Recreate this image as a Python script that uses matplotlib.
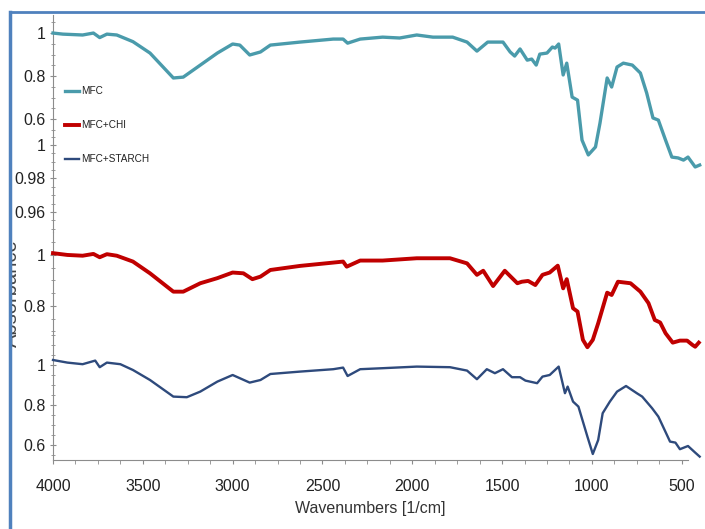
import matplotlib
matplotlib.use("Agg")
import matplotlib.pyplot as plt
from matplotlib.patches import Rectangle
from matplotlib.lines import Line2D
from matplotlib.ticker import MultipleLocator, FormatStrFormatter, FixedLocator

plt.rcParams['font.family'] = ['Liberation Sans', 'DejaVu Sans']

# --- data ---
wn_mfc = [4000, 3945, 3835, 3775, 3740, 3700, 3645, 3555, 3460, 3330, 3275, 3180,
          3085, 3000, 2960, 2905, 2845, 2790, 2625, 2440, 2385, 2360, 2290, 2165,
          2070, 1975, 1885, 1775, 1695, 1640, 1580, 1495, 1455, 1430, 1400, 1360,
          1335, 1310, 1290, 1250, 1220, 1205, 1185, 1160, 1140, 1110, 1080, 1055,
          1020, 980, 955, 915, 890, 860, 825, 775, 730, 695, 660, 630, 590, 555,
          520, 490, 465, 425, 400]
abs_mfc = [1.0, 0.995, 0.991, 1.0, 0.979, 0.995, 0.991, 0.960, 0.907, 0.791, 0.795, 0.851,
           0.907, 0.949, 0.944, 0.898, 0.912, 0.944, 0.958, 0.972, 0.972, 0.953, 0.972, 0.981,
           0.977, 0.991, 0.981, 0.981, 0.958, 0.916, 0.958, 0.958, 0.912, 0.893, 0.926, 0.874,
           0.879, 0.851, 0.902, 0.907, 0.935, 0.930, 0.949, 0.805, 0.860, 0.702, 0.688, 0.502,
           0.433, 0.470, 0.581, 0.791, 0.749, 0.842, 0.860, 0.851, 0.814, 0.721, 0.605, 0.595,
           0.502, 0.423, 0.419, 0.409, 0.423, 0.377, 0.386]

wn_chi = [4000, 3920, 3835, 3775, 3740, 3700, 3645, 3555, 3460, 3330, 3275, 3180,
          3085, 3000, 2940, 2890, 2845, 2790, 2625, 2440, 2385, 2365, 2290, 2165,
          1975, 1790, 1695, 1640, 1605, 1550, 1485, 1415, 1390, 1355, 1315, 1275,
          1235, 1190, 1160, 1140, 1105, 1080, 1050, 1025, 995, 965, 915, 890, 855,
          785, 730, 685, 650, 620, 590, 550, 510, 470, 440, 425, 405]
abs_chi = [1.007, 1.0, 0.997, 1.004, 0.991, 1.003, 0.997, 0.974, 0.928, 0.856, 0.856, 0.889,
           0.909, 0.931, 0.928, 0.905, 0.915, 0.941, 0.957, 0.970, 0.974, 0.954, 0.978, 0.978,
           0.987, 0.987, 0.967, 0.922, 0.938, 0.878, 0.938, 0.889, 0.895, 0.898, 0.882, 0.922,
           0.931, 0.958, 0.869, 0.905, 0.791, 0.778, 0.667, 0.638, 0.667, 0.732, 0.852, 0.843,
           0.895, 0.889, 0.856, 0.811, 0.745, 0.735, 0.693, 0.656, 0.664, 0.664, 0.647, 0.640,
           0.656]

wn_starch = [4000, 3920, 3835, 3765, 3740, 3700, 3625, 3555, 3460, 3330, 3255, 3180,
             3085, 3000, 2905, 2845, 2790, 2625, 2440, 2385, 2360, 2290, 2165, 1975,
             1790, 1695, 1640, 1585, 1540, 1495, 1445, 1400, 1370, 1305, 1275, 1235,
             1185, 1150, 1135, 1105, 1075, 1025, 995, 965, 940, 900, 860, 810, 750,
             720, 665, 630, 565, 535, 510, 465, 425, 400]
abs_starch = [1.025, 1.012, 1.004, 1.022, 0.989, 1.012, 1.004, 0.975, 0.925, 0.842, 0.839, 0.867,
              0.917, 0.950, 0.912, 0.925, 0.955, 0.967, 0.979, 0.987, 0.945, 0.979, 0.984, 0.992,
              0.989, 0.972, 0.929, 0.979, 0.959, 0.979, 0.939, 0.939, 0.922, 0.909, 0.942, 0.950,
              0.992, 0.859, 0.892, 0.817, 0.792, 0.642, 0.555, 0.625, 0.759, 0.817, 0.867, 0.895,
              0.859, 0.842, 0.784, 0.742, 0.617, 0.612, 0.579, 0.595, 0.562, 0.542]

W, H = 705, 529
fig = plt.figure(figsize=(W / 100, H / 100), dpi=100)
fig.patch.set_facecolor("white")


def panel(top, bottom):
    return fig.add_axes([53 / W, 1 - bottom / H, 635 / W, (bottom - top) / H])


grey = "#8c8c8c"
# (top px, bottom px, ylim, major ticks, minor step)
specs = [
    (15, 130, (0.549, 1.084), [0.6, 0.8, 1.0], 0.05),
    (130, 232, (0.948, 1.009), [0.96, 0.98, 1.0], 0.005),
    (232, 335, (0.686, 1.090), [0.8, 1.0], 0.05),
    (335, 460, (0.525, 1.150), [0.6, 0.8, 1.0], 0.05),
]
axes = []
for top, bottom, ylim, major, minor in specs:
    ax = panel(top, bottom)
    ax.set_xlim(4000, 465)
    ax.set_ylim(*ylim)
    ax.patch.set_alpha(0)
    for s in ("top", "right", "bottom"):
        ax.spines[s].set_visible(False)
    ax.spines["left"].set_color(grey)
    ax.yaxis.set_major_locator(FixedLocator(major))
    ax.yaxis.set_minor_locator(MultipleLocator(minor))
    ax.yaxis.set_major_formatter(FormatStrFormatter("%g"))
    ax.tick_params(axis="y", which="both", direction="inout", color=grey,
                   labelsize=11.5, labelcolor="#222222", pad=3)
    ax.tick_params(axis="y", which="major", length=5)
    ax.tick_params(axis="y", which="minor", length=3)
    ax.set_xticks([])
    axes.append(ax)

bot = axes[-1]
bot.spines["bottom"].set_visible(True)
bot.spines["bottom"].set_color(grey)
bot.set_xticks([4000, 3500, 3000, 2500, 2000, 1500, 1000, 500])
bot.xaxis.set_minor_locator(MultipleLocator(125))
bot.tick_params(axis="x", which="both", direction="out", color=grey, length=3,
                labelsize=11.5, labelcolor="#222222", pad=11)
bot.set_xlabel("Wavenumbers [1/cm]", fontsize=11.5, color="#333333", labelpad=5)

c_mfc, c_chi, c_starch = "#4a9bab", "#c00000", "#2e4a7c"
style = dict(clip_on=False, zorder=5, solid_joinstyle="round")
axes[0].plot(wn_mfc, abs_mfc, color=c_mfc, lw=2.4, **style)
axes[2].plot(wn_chi, abs_chi, color=c_chi, lw=2.8, **style)
axes[3].plot(wn_starch, abs_starch, color=c_starch, lw=1.7, **style)

handles = [Line2D([], [], color=c_mfc, lw=2.4),
           Line2D([], [], color=c_chi, lw=2.8),
           Line2D([], [], color=c_starch, lw=1.7)]
fig.legend(handles, ["MFC", "MFC+CHI", "MFC+STARCH"], loc="upper left",
           bbox_to_anchor=(60 / W, 1 - 81 / H), frameon=False, fontsize=7.2,
           labelspacing=2.4, handlelength=1.4, handletextpad=0.2, borderpad=0,
           labelcolor="#222222")

fig.text(21 / W, 1 - 293 / H, "Absorbance", rotation=90, fontsize=14.5,
         color="#444444", ha="right", va="center", zorder=1)

# outer frame, hides the left part of the y label
fig.patches.append(Rectangle((0, 0), 10 / W, 1 - 12 / H, transform=fig.transFigure,
                             facecolor="white", edgecolor="none", zorder=3))
fig.add_artist(Line2D([10 / W, 10 / W], [0, 1 - 12 / H], color="#4f81bd", lw=2.5,
                      transform=fig.transFigure, zorder=4))
fig.add_artist(Line2D([10 / W, 1], [1 - 12 / H, 1 - 12 / H], color="#4f81bd", lw=2,
                      transform=fig.transFigure, zorder=4))

fig.savefig("out.png", dpi=100)
